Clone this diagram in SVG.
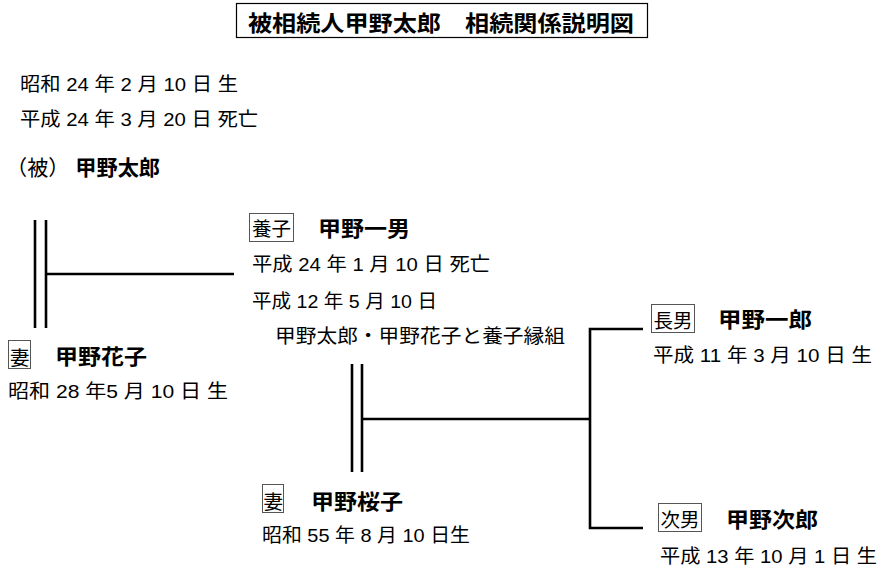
<svg xmlns="http://www.w3.org/2000/svg" width="881" height="569" viewBox="0 0 881 569">
<style>
text{font-family:"Liberation Sans","Noto Sans CJK JP",sans-serif;fill:#000}
.t{font-size:19px}
.b{font-size:19.5px}
.n{font-size:21px;font-weight:bold}
.r{font-weight:normal}
.ttl{font-size:22px;font-weight:bold}
.lb{fill:#fff;stroke:#555;stroke-width:1}
.ln{stroke:#000;stroke-width:2.6;fill:none}
</style>
<rect width="881" height="569" fill="#fff"/>
<g id="title">
<rect x="236.5" y="3.5" width="411" height="34" fill="#fff" stroke="#000" stroke-width="1.2"/>
<text class="ttl" x="248" y="31" textLength="386" lengthAdjust="spacingAndGlyphs">被相続人甲野太郎　相続関係説明図</text>
</g>
<g id="taro">
<text class="t" x="20" y="91" textLength="218" lengthAdjust="spacingAndGlyphs">昭和 24 年 2 月 10 日 生</text>
<text class="t" x="20" y="126" textLength="238" lengthAdjust="spacingAndGlyphs">平成 24 年 3 月 20 日 死亡</text>
<text class="n" x="6" y="175" textLength="154" lengthAdjust="spacingAndGlyphs"><tspan class="r">（被）</tspan> 甲野太郎</text>
</g>
<g id="hanako">
<rect class="lb" x="8.5" y="340.5" width="22" height="28"/>
<text class="b" x="10" y="365">妻</text>
<text class="n" x="55" y="364" textLength="92" lengthAdjust="spacingAndGlyphs">甲野花子</text>
<text class="t" x="8" y="398" textLength="220" lengthAdjust="spacingAndGlyphs">昭和 28 年5 月 10 日 生</text>
</g>
<g id="kazuo">
<rect class="lb" x="249.5" y="213.5" width="44" height="28"/>
<text class="b" x="252" y="236" textLength="39" lengthAdjust="spacingAndGlyphs">養子</text>
<text class="n" x="318" y="236" textLength="92" lengthAdjust="spacingAndGlyphs">甲野一男</text>
<text class="t" x="252" y="271" textLength="238" lengthAdjust="spacingAndGlyphs">平成 24 年 1 月 10 日 死亡</text>
<text class="t" x="252" y="308" textLength="185" lengthAdjust="spacingAndGlyphs">平成 12 年 5 月 10 日</text>
<text class="t" x="275" y="343" textLength="290" lengthAdjust="spacingAndGlyphs">甲野太郎・甲野花子と養子縁組</text>
</g>
<g id="sakurako">
<rect class="lb" x="262.5" y="484.5" width="21" height="28"/>
<text class="b" x="263.5" y="509">妻</text>
<text class="n" x="311" y="509" textLength="92" lengthAdjust="spacingAndGlyphs">甲野桜子</text>
<text class="t" x="262" y="542" textLength="208" lengthAdjust="spacingAndGlyphs">昭和 55 年 8 月 10 日生</text>
</g>
<g id="ichiro">
<rect class="lb" x="651.5" y="304.5" width="43" height="28"/>
<text class="b" x="653.5" y="328" textLength="39" lengthAdjust="spacingAndGlyphs">長男</text>
<text class="n" x="718" y="327" textLength="94" lengthAdjust="spacingAndGlyphs">甲野一郎</text>
<text class="t" x="653" y="362" textLength="219" lengthAdjust="spacingAndGlyphs">平成 11 年 3 月 10 日 生</text>
</g>
<g id="jiro">
<rect class="lb" x="658.5" y="503.5" width="43" height="28"/>
<text class="b" x="660.5" y="527" textLength="39" lengthAdjust="spacingAndGlyphs">次男</text>
<text class="n" x="726" y="527" textLength="92" lengthAdjust="spacingAndGlyphs">甲野次郎</text>
<text class="t" x="660" y="563" textLength="217" lengthAdjust="spacingAndGlyphs">平成 13 年 10 月 1 日 生</text>
</g>
<g id="connectors">
<line class="ln" x1="35" y1="220" x2="35" y2="328"/>
<line class="ln" x1="46" y1="220" x2="46" y2="328"/>
<line class="ln" x1="46" y1="274" x2="234" y2="274"/>
<line class="ln" x1="352" y1="364" x2="352" y2="472"/>
<line class="ln" x1="362" y1="364" x2="362" y2="472"/>
<line class="ln" x1="362" y1="419" x2="590" y2="419"/>
<polyline class="ln" points="643,329 590,329 590,528 643,528"/>
</g>
</svg>
